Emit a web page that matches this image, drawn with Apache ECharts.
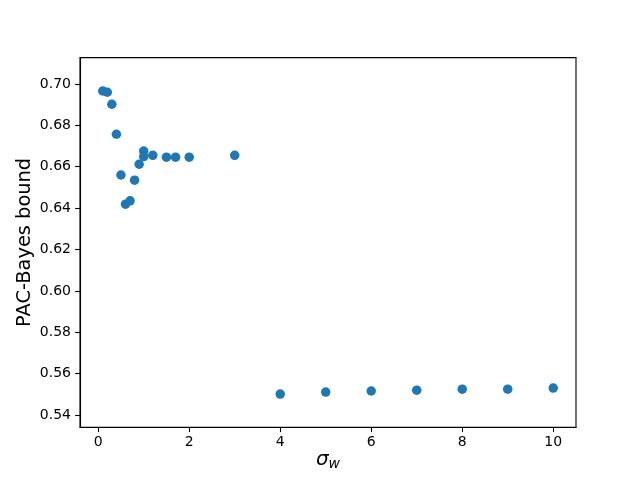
<!DOCTYPE html>
<html>
<head>
<meta charset="utf-8">
<script src="https://cdn.jsdelivr.net/npm/echarts@6/dist/echarts.min.js"></script>
<style>html,body{margin:0;padding:0;background:#fff;}#c{width:640px;height:480px;}</style>
</head>
<body>
<div id="c"></div>
<script>
const sigmaW = [0.1, 0.2, 0.3, 0.4, 0.5, 0.6, 0.7, 0.8, 0.9, 1.0, 1.0, 1.2, 1.5, 1.7, 2.0, 3.0, 4, 5, 6, 7, 8, 9, 10];
const bound = [0.6966, 0.6960, 0.6902, 0.6757, 0.6560, 0.6419, 0.6435, 0.6535, 0.6612, 0.6676, 0.6649, 0.6655, 0.6646, 0.6646, 0.6646, 0.6655, 0.5501, 0.5511, 0.5516, 0.5520, 0.5525, 0.5525, 0.5530];
const xTicks = [0, 2, 4, 6, 8, 10];
const yTicks = [0.54, 0.56, 0.58, 0.60, 0.62, 0.64, 0.66, 0.68, 0.70];

const points = sigmaW.map((x, i) => [x, bound[i]]);
const font = 'DejaVu Sans';
const chart = echarts.init(document.getElementById('c'), null, {renderer: 'canvas'});
chart.setOption({
  animation: false,
  backgroundColor: '#fff',
  grid: {left: 80, right: 64, top: 57.6, bottom: 52.8, show: true, borderColor: '#000', borderWidth: 1.1, backgroundColor: 'transparent'},
  xAxis: {
    type: 'value', min: -0.4, max: 10.5,
    name: '{s|σ}{w|w}', nameLocation: 'middle', nameGap: 22, nameMoveOverlap: false,
    nameTextStyle: {rich: {s: {fontFamily: font, fontSize: 20, fontStyle: 'italic', color: '#000'}, w: {fontFamily: font, fontSize: 14, fontStyle: 'italic', color: '#000', verticalAlign: 'bottom', padding: [8, 0, 0, 0]}}},
    splitLine: {show: false},
    axisLine: {show: true, onZero: false, lineStyle: {color: '#000', width: 1.1}},
    axisTick: {show: true, length: 4.9, lineStyle: {color: '#000', width: 1.1}, customValues: xTicks},
    axisLabel: {color: '#000', fontFamily: font, fontSize: 14, margin: 8, customValues: xTicks, formatter: v => String(v)}
  },
  yAxis: {
    type: 'value', min: 0.5341, max: 0.71275,
    name: 'PAC-Bayes bound', nameLocation: 'middle', nameGap: 46, nameMoveOverlap: false,
    nameTextStyle: {fontFamily: font, fontSize: 19.4, color: '#000'},
    splitLine: {show: false},
    axisLine: {show: true, onZero: false, lineStyle: {color: '#000', width: 1.1}},
    axisTick: {show: true, length: 4.9, lineStyle: {color: '#000', width: 1.1}, customValues: yTicks},
    axisLabel: {color: '#000', fontFamily: font, fontSize: 14, margin: 9, customValues: yTicks, formatter: v => v.toFixed(2)}
  },
  series: [{
    type: 'scatter', data: points, symbolSize: 9.5,
    itemStyle: {color: '#1f77b4', opacity: 1}
  }]
});
</script>
</body>
</html>
